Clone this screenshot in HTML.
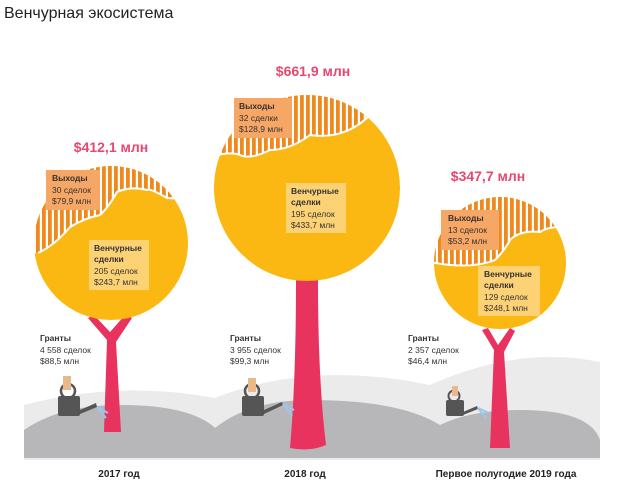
<!DOCTYPE html>
<html><head><meta charset="utf-8"><style>
body{margin:0;background:#fff;width:625px;height:495px;overflow:hidden;font-family:"Liberation Sans","Noto Sans CJK SC",sans-serif}
</style></head><body>
<svg width="625" height="495" viewBox="0 0 625 495" xmlns="http://www.w3.org/2000/svg" font-family="Liberation Sans, sans-serif">
<defs>
<pattern id="st" width="6" height="10" patternUnits="userSpaceOnUse"><rect width="6" height="10" fill="#fff"/><rect width="3.8" height="10" fill="#f0891c"/></pattern>
<clipPath id="c1"><circle cx="111" cy="243" r="77"/></clipPath>
<clipPath id="c2"><circle cx="307" cy="188" r="93"/></clipPath>
<clipPath id="c3"><circle cx="500" cy="263" r="66"/></clipPath>
</defs>
<text x="4" y="18" font-size="16" fill="#222">Венчурная экосистема</text>
<!-- background hills -->
<path d="M24 405 Q120 380 215 398 Q310 360 430 385 Q520 345 600 362 L600 460 L24 460Z" fill="#ebebeb"/>
<path d="M24 430 Q60 405 120 405 Q190 405 215 428 Q250 400 310 400 Q400 400 440 425 Q470 410 520 410 Q590 410 600 440 L600 458 L24 458Z" fill="#b7b7ba"/>
<!-- trunks -->
<g fill="#e8335f">
<path d="M104 432 L107 340 L88 318 L94 315 L110 332 L126 314 L132 318 L116 342 L121 432Z"/>
<path d="M290 448 Q296 380 296 280 L318 280 Q318 380 326 445 Q310 452 290 448Z"/>
<path d="M490 448 L494 350 L482 330 L488 328 L498 345 L510 328 L515 331 L504 352 L510 448Z"/>
</g>
<!-- watering cans -->
<g fill="#555">
<rect x="58" y="396" width="22" height="20" rx="2"/><path d="M80 410 L96 403 L97 407 L80 414Z"/><circle cx="68" cy="391" r="7" fill="none" stroke="#555" stroke-width="2.5"/>
<rect x="242" y="396" width="22" height="20" rx="2"/><path d="M264 410 L282 402 L283 405 L264 414Z"/><circle cx="252" cy="391" r="7" fill="none" stroke="#555" stroke-width="2.5"/>
<rect x="446" y="400" width="18" height="16" rx="2"/><path d="M463 412 L477 406 L478 409 L463 415Z"/><circle cx="454" cy="396" r="5.5" fill="none" stroke="#555" stroke-width="2"/>
</g>
<g fill="#e9b98c"><rect x="63" y="376" width="8" height="14"/><rect x="248" y="378" width="8" height="14"/><rect x="452" y="386" width="6" height="10"/></g>
<g stroke="#9cc6ee" stroke-width="2"><path d="M97 407 L106 418 M97 407 L108 413"/><path d="M283 404 L292 416 M283 404 L294 410"/><path d="M478 408 L486 418 M478 408 L489 413"/></g>
<!-- tree 1 -->
<circle cx="111" cy="243" r="77" fill="#fbb813"/>
<path clip-path="url(#c1)" d="M20 150 L200 150 L200 200 L167 198 Q150 188 147 190 Q130 186 117 192 Q108 208 100 215 Q85 218 70 227 Q55 245 38 253 L20 255Z" fill="url(#st)"/>
<path clip-path="url(#c1)" d="M200 200 L167 198 Q150 188 147 190 Q130 186 117 192 Q108 208 100 215 Q85 218 70 227 Q55 245 38 253" fill="none" stroke="#fff" stroke-width="2"/>
<rect x="46" y="170" width="54" height="40" fill="#f6a766"/>
<text font-size="8.5" fill="#333"><tspan x="52" y="181" font-weight="bold">Выходы</tspan><tspan x="52" y="193">30 сделок</tspan><tspan x="52" y="204">$79,9 млн</tspan></text>
<rect x="89" y="240" width="60" height="50" fill="#fdd275"/>
<text font-size="8.5" fill="#333"><tspan x="94" y="251" font-weight="bold">Венчурные</tspan><tspan x="94" y="262" font-weight="bold">сделки</tspan><tspan x="94" y="274">205 сделок</tspan><tspan x="94" y="285">$243,7 млн</tspan></text>
<text x="111" y="152" font-size="14" font-weight="bold" fill="#e8476f" text-anchor="middle">$412,1 млн</text>
<!-- tree 2 -->
<circle cx="307" cy="188" r="93" fill="#fbb813"/>
<path clip-path="url(#c2)" d="M200 80 L410 80 L410 105 Q380 100 370 115 Q345 140 310 135 Q290 150 270 150 Q250 160 240 155 Q228 150 200 160Z" fill="url(#st)"/>
<path clip-path="url(#c2)" d="M410 105 Q380 100 370 115 Q345 140 310 135 Q290 150 270 150 Q250 160 240 155 Q228 150 200 160" fill="none" stroke="#fff" stroke-width="2"/>
<rect x="234" y="98" width="58" height="40" fill="#f6a766"/>
<text font-size="8.5" fill="#333"><tspan x="239" y="109" font-weight="bold">Выходы</tspan><tspan x="239" y="121">32 сделки</tspan><tspan x="239" y="132">$128,9 млн</tspan></text>
<rect x="286" y="183" width="60" height="50" fill="#fdd275"/>
<text font-size="8.5" fill="#333"><tspan x="291" y="194" font-weight="bold">Венчурные</tspan><tspan x="291" y="205" font-weight="bold">сделки</tspan><tspan x="291" y="217">195 сделок</tspan><tspan x="291" y="228">$433,7 млн</tspan></text>
<text x="313" y="76" font-size="14" font-weight="bold" fill="#e8476f" text-anchor="middle">$661,9 млн</text>
<!-- tree 3 -->
<circle cx="500" cy="263" r="66" fill="#fbb813"/>
<path clip-path="url(#c3)" d="M430 190 L570 190 L570 228 Q550 225 540 232 Q520 230 510 240 Q505 250 495 260 Q470 270 430 262Z" fill="url(#st)"/>
<path clip-path="url(#c3)" d="M570 228 Q550 225 540 232 Q520 230 510 240 Q505 250 495 260 Q470 270 430 262" fill="none" stroke="#fff" stroke-width="2"/>
<rect x="441" y="210" width="58" height="40" fill="#f6a766"/>
<text font-size="8.5" fill="#333"><tspan x="448" y="221" font-weight="bold">Выходы</tspan><tspan x="448" y="233">13 сделок</tspan><tspan x="448" y="244">$53,2 млн</tspan></text>
<rect x="478" y="266" width="62" height="50" fill="#fdd275"/>
<text font-size="8.5" fill="#333"><tspan x="484" y="277" font-weight="bold">Венчурные</tspan><tspan x="484" y="288" font-weight="bold">сделки</tspan><tspan x="484" y="300">129 сделок</tspan><tspan x="484" y="311">$248,1 млн</tspan></text>
<text x="488" y="181" font-size="14" font-weight="bold" fill="#e8476f" text-anchor="middle">$347,7 млн</text>
<!-- grants -->
<text font-size="8.5" fill="#333"><tspan x="40" y="341" font-weight="bold">Гранты</tspan><tspan x="40" y="353">4 558 сделок</tspan><tspan x="40" y="364">$88,5 млн</tspan></text>
<text font-size="8.5" fill="#333"><tspan x="230" y="341" font-weight="bold">Гранты</tspan><tspan x="230" y="353">3 955 сделок</tspan><tspan x="230" y="364">$99,3 млн</tspan></text>
<text font-size="8.5" fill="#333"><tspan x="408" y="341" font-weight="bold">Гранты</tspan><tspan x="408" y="353">2 357 сделок</tspan><tspan x="408" y="364">$46,4 млн</tspan></text>
<!-- years -->
<g font-size="10" font-weight="bold" fill="#222" text-anchor="middle">
<text x="119" y="477">2017 год</text><text x="305" y="477">2018 год</text><text x="506" y="477">Первое полугодие 2019 года</text>
</g>
</svg>
</body></html>
